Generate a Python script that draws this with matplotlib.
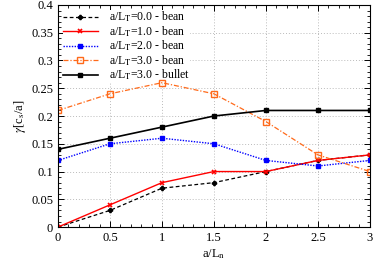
import numpy as np
import matplotlib
matplotlib.use('Agg')
import matplotlib.pyplot as plt
from matplotlib.ticker import MultipleLocator

plt.rcParams['font.family'] = ['Liberation Serif', 'DejaVu Serif']
plt.rcParams['mathtext.fontset'] = 'stix'

x = [0, 0.5, 1, 1.5, 2, 2.5, 3]
bean00 = [0, 0.03, 0.07, 0.08, 0.10, 0.12, 0.13]
bean10 = [0, 0.04, 0.08, 0.10, 0.10, 0.12, 0.13]
bean20 = [0.12, 0.15, 0.16, 0.15, 0.12, 0.11, 0.12]
bean30 = [0.21, 0.24, 0.26, 0.24, 0.19, 0.13, 0.10]
bullet30 = [0.14, 0.16, 0.18, 0.20, 0.21, 0.21, 0.21]

fig = plt.figure(figsize=(3.74, 2.61), dpi=100)
ax = fig.add_axes([0.155, 0.130, 0.834, 0.851])

ax.plot(x, bean00, color='black', ls=(0, (3, 2)), lw=0.9, marker='P', ms=3, label=r'a/L$_\mathrm{T}$=0.0 - bean')
ax.plot(x, bean10, color='red', ls='-', lw=1.0, marker='x', ms=3.5, mew=1.2, label=r'a/L$_\mathrm{T}$=1.0 - bean')
ax.plot(x, bean20, color='blue', ls=(0, (1, 1)), lw=1.0, marker='s', ms=3, label=r'a/L$_\mathrm{T}$=2.0 - bean')
ax.plot(x, bean30, color='#ff6a1a', ls=(0, (4, 1.5, 1, 1.5)), lw=0.9, marker='s', ms=4, mfc='none', mew=1.0, label=r'a/L$_\mathrm{T}$=3.0 - bean')
ax.plot(x, bullet30, color='black', ls='-', lw=1.2, marker='s', ms=3, label=r'a/L$_\mathrm{T}$=3.0 - bullet')

ax.set_xlim(0, 3)
ax.set_ylim(0, 0.4)
ax.xaxis.set_major_locator(MultipleLocator(0.5))
ax.xaxis.set_minor_locator(MultipleLocator(0.1))
ax.yaxis.set_major_locator(MultipleLocator(0.05))
ax.yaxis.set_minor_locator(MultipleLocator(0.01))
ax.xaxis.set_major_formatter(plt.FuncFormatter(lambda v, p: ('%g' % v)))
ax.yaxis.set_major_formatter(plt.FuncFormatter(lambda v, p: ('%g' % round(v, 2))))
ax.tick_params(which='both', direction='in', top=True, right=True, labelsize=9)
ax.tick_params(which='major', length=4, width=0.7)
ax.tick_params(which='minor', length=2, width=0.6)
for s in ax.spines.values():
    s.set_linewidth(0.8)
ax.grid(True, which='major', color='#bbbbbb', ls=(0, (1, 2)), lw=0.7)
ax.set_axisbelow(True)

ax.set_xlabel(r'a/L$_\mathrm{n}$', fontsize=9, labelpad=2)
ax.set_ylabel(r'$\gamma$[c$_\mathrm{s}$/a]', fontsize=9, labelpad=2)

leg = ax.legend(loc='upper left', fontsize=8.5, frameon=True, fancybox=False, edgecolor='white',
                framealpha=1, handlelength=3.0, labelspacing=0.0, borderpad=0.0, handletextpad=0.9,
                borderaxespad=0.4)
leg.get_frame().set_linewidth(0)
leg.set_zorder(1.5)

fig.savefig('out.png', dpi=100)
